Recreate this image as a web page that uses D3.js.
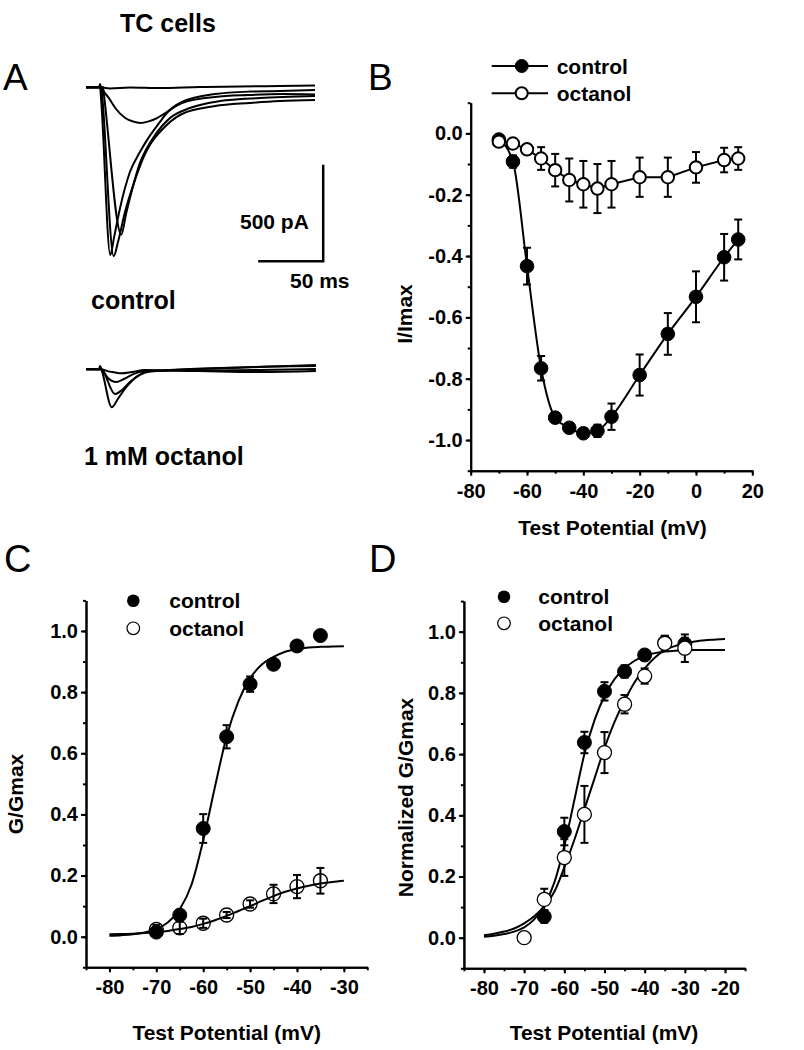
<!DOCTYPE html>
<html><head><meta charset="utf-8">
<script src="https://cdn.jsdelivr.net/npm/d3@7"></script>
<style>body{margin:0;background:#fff} svg{display:block} text{font-family:"Liberation Sans",Arial,Helvetica,sans-serif}</style>
</head><body><svg id="c" width="804" height="1050"></svg>
<script>
// ---------- Panel A: current traces [time ms, current pA] ----------
const ctrlTrace1 = [[0,-1],[10,-1],[10.8,17],[11.5,2],[18.5,-6],[33.8,-1],[56.9,-4],[87.7,2],[118.5,4],[149.2,7],[176.2,9]];
const ctrlTrace2 = [[0,0],[10.8,0],[13.8,-24],[17.5,-55],[22.5,-107],[30.2,-159],[36.2,-177],[41.8,-184],[48.2,-176],[54.6,-159],[61,-133],[73.8,-81],[99.2,-50],[124.6,-40],[150.8,-35],[176.2,-37]];
const ctrlTrace3 = [[0,0],[10.8,0],[11.6,-60],[18.7,-867],[21.5,-779],[26.2,-624],[33.8,-438],[41.5,-335],[46.9,-273],[56.9,-179],[61,-142],[73.8,-76],[99.2,-35],[126.2,-22],[149.2,-19],[176.2,-14]];
const ctrlTrace4 = [[0,0],[11.9,0],[12.7,-60],[21.3,-874],[24.6,-800],[30,-645],[37.7,-479],[45.4,-345],[49.2,-298],[56.9,-231],[73.8,-138],[99.2,-97],[126.2,-81],[149.2,-71],[176.2,-66]];
const ctrlTrace5 = [[0,0],[13.1,0],[14,-50],[27.2,-762],[30.8,-655],[35.4,-531],[41.5,-391],[46.9,-314],[53.1,-247],[64.6,-159],[80,-107],[103.1,-71],[133.8,-55],[176.2,-45]];
const octTrace1 = [[0,0],[10,0],[10.8,17],[12.3,-9],[19.8,-196],[24.8,-150],[31.3,-90],[39,-38],[46.7,-12],[64.6,-4],[103.1,7],[141.5,14],[176.9,17]];
const octTrace2 = [[0,0],[11.5,0],[22.3,-128],[27.7,-107],[33.8,-66],[41.5,-29],[49.2,-11],[87.7,2],[133.8,12],[176.9,22]];
const octTrace3 = [[0,0],[11.5,0],[16.9,-45],[23.1,-66],[29.2,-50],[36.9,-24],[45.4,-9],[87.7,-6],[133.8,-4],[176.9,2]];
const octTrace4 = [[0,0],[10.8,0],[18.5,-12],[27.5,-21],[35.4,-14],[45.4,-4],[87.7,-9],[133.8,-14],[176.9,-9]];
const scaleBarT = [132.5, 182.5];   // 50 ms
const scaleBarI = [-900, -400];     // 500 pA

// ---------- Panel B: I-V ----------
const bV = [-70,-65,-60,-55,-50,-45,-40,-35,-30,-20,-10,0,10,15];
const bControl = [-0.02,-0.092,-0.433,-0.766,-0.927,-0.96,-0.978,-0.97,-0.924,-0.788,-0.654,-0.533,-0.404,-0.346];
const bControlErr = [0.01,0.02,0.06,0.04,0.015,0.015,0.01,0.02,0.043,0.067,0.068,0.083,0.076,0.065];
const bOctanol = [-0.027,-0.033,-0.052,-0.082,-0.12,-0.152,-0.166,-0.18,-0.166,-0.143,-0.143,-0.111,-0.087,-0.082];
const bOctanolErr = [0.01,0.01,0.015,0.037,0.053,0.07,0.076,0.08,0.076,0.064,0.064,0.05,0.04,0.037];
const bXTicks = [-80,-60,-40,-20,0,20];
const bYTicks = [0,-0.2,-0.4,-0.6,-0.8,-1.0];

// ---------- Panel C: G/Gmax ----------
const cV = [-70,-65,-60,-55,-50,-45,-40,-35];
const cControl = [0.015,0.071,0.354,0.654,0.826,0.891,0.951,0.985];
const cControlErr = [0.01,0.01,0.047,0.038,0.025,0.01,0.01,0.01];
const cOctanol = [0.024,0.029,0.044,0.071,0.107,0.14,0.164,0.183];
const cOctanolErr = [0.015,0.02,0.015,0.01,0.012,0.03,0.038,0.042];
const cFitV = [-80,-77.5,-75,-72.5,-70,-67.5,-65,-62.5,-60,-57.5,-55,-52.5,-50,-47.5,-45,-42.5,-40,-37.5,-35,-32.5,-30];
const cFitControl = [0.003,0.005,0.008,0.014,0.025,0.047,0.09,0.17,0.315,0.49,0.655,0.77,0.845,0.89,0.915,0.932,0.941,0.946,0.948,0.949,0.95];
const cFitOctanol = [0.008,0.009,0.010,0.012,0.015,0.019,0.025,0.032,0.042,0.054,0.068,0.084,0.1,0.117,0.133,0.147,0.158,0.167,0.174,0.179,0.183];
const cXTicks = [-80,-70,-60,-50,-40,-30];
const gYTicks = [0,0.2,0.4,0.6,0.8,1.0];

// ---------- Panel D: normalized G/Gmax ----------
const dVControl = [-65,-60,-55,-50,-45,-40,-35,-30];
const dControl = [0.069,0.347,0.638,0.805,0.87,0.924,0.965,0.96];
const dControlErr = [0.02,0.045,0.035,0.03,0.02,0.01,0.02,0.02];
const dVOctanol = [-70,-65,-60,-55,-50,-45,-40,-35,-30];
const dOctanol = [0.0,0.125,0.262,0.403,0.605,0.763,0.855,0.962,0.946];
const dOctanolErr = [0.0,0.035,0.06,0.093,0.067,0.03,0.025,0.025,0.045];
const dFitV = [-80,-77.5,-75,-72.5,-70,-67.5,-65,-62.5,-60,-57.5,-55,-52.5,-50,-47.5,-45,-42.5,-40,-37.5,-35,-32.5,-30,-27.5,-25,-22.5,-20];
const dFitControl = [0.003,0.006,0.012,0.02,0.034,0.06,0.105,0.18,0.3,0.45,0.6,0.71,0.79,0.845,0.88,0.905,0.92,0.93,0.935,0.938,0.939,0.94,0.94,0.94,0.94];
const dFitOctanol = [0.008,0.013,0.02,0.03,0.047,0.07,0.103,0.15,0.23,0.32,0.42,0.52,0.62,0.705,0.775,0.835,0.88,0.915,0.94,0.953,0.962,0.968,0.972,0.974,0.976];
const dXTicks = [-80,-70,-60,-50,-40,-30,-20];

// ================= drawing =================
const FONT = '"Liberation Sans", Arial, Helvetica, sans-serif';
const svg = d3.select("#c");
svg.append("rect").attr("width",804).attr("height",1050).attr("fill","#fff");

function txt(x, y, s, size, weight, anchor, rot) {
  const t = svg.append("text").attr("font-size", size).attr("font-weight", weight || "bold")
    .attr("font-family", FONT).attr("fill", "#000").attr("text-anchor", anchor || "start").text(s);
  if (rot) t.attr("transform", `translate(${x},${y}) rotate(${rot})`);
  else t.attr("x", x).attr("y", y);
  return t;
}

function minorVals(lo, hi, step) {
  const out = [];
  for (let i = 0; lo + i * step <= hi + 1e-9; i++) out.push(+(lo + i * step).toFixed(4));
  return out;
}

function axes(x, y, xMajor, xMinorStep, yMajor, yMinorStep, yFmt) {
  const x0 = x.range()[0], y0 = y.range()[0];
  const [xd0, xd1] = x.domain(), [yd0, yd1] = y.domain();
  const gx = svg.append("g").attr("transform", `translate(0,${y0})`);
  gx.call(d3.axisBottom(x).tickValues(minorVals(xd0, xd1, xMinorStep)).tickSize(3).tickSizeOuter(0).tickFormat(""));
  gx.call(g => g.selectAll(".tick text").remove());
  const gx2 = svg.append("g").attr("transform", `translate(0,${y0})`);
  gx2.call(d3.axisBottom(x).tickValues(xMajor).tickSize(5).tickSizeOuter(0).tickPadding(8).tickFormat(d => String(d)));
  const gy = svg.append("g").attr("transform", `translate(${x0},0)`);
  gy.call(d3.axisLeft(y).tickValues(minorVals(Math.min(yd0,yd1), Math.max(yd0,yd1), yMinorStep)).tickSize(3).tickSizeOuter(0).tickFormat(""));
  gy.call(g => g.selectAll(".tick text").remove());
  const gy2 = svg.append("g").attr("transform", `translate(${x0},0)`);
  gy2.call(d3.axisLeft(y).tickValues(yMajor).tickSize(5).tickSizeOuter(0).tickPadding(3).tickFormat(yFmt));
  [gx, gx2, gy, gy2].forEach(g => {
    g.attr("font-size", 20).attr("font-family", FONT).attr("font-weight", "bold");
    g.selectAll("path.domain").attr("stroke", "#000").attr("stroke-width", 2);
    g.selectAll(".tick line").attr("stroke", "#000").attr("stroke-width", 2);
    g.selectAll(".tick text").attr("fill", "#000");
  });
}

function errBars(x, y, V, M, E, cap) {
  const g = svg.append("g").attr("stroke", "#000").attr("stroke-width", 2).attr("fill", "none");
  V.forEach((v, i) => {
    if (!E[i]) return;
    const px = x(v), lo = y(M[i] - E[i]), hi = y(M[i] + E[i]);
    g.append("line").attr("x1", px).attr("x2", px).attr("y1", lo).attr("y2", hi);
    g.append("line").attr("x1", px - cap).attr("x2", px + cap).attr("y1", lo).attr("y2", lo);
    g.append("line").attr("x1", px - cap).attr("x2", px + cap).attr("y1", hi).attr("y2", hi);
  });
}

function markers(x, y, V, M, filled, r, fill, sw) {
  svg.append("g").selectAll("circle").data(V).join("circle")
    .attr("cx", d => x(d)).attr("cy", (d, i) => y(M[i])).attr("r", r)
    .attr("fill", filled ? "#000" : fill).attr("stroke", "#000").attr("stroke-width", filled ? 1 : sw);
}

function curve(x, y, V, M, c) {
  svg.append("path").datum(V.map((v, i) => [v, M[i]]))
    .attr("d", d3.line().x(d => x(d[0])).y(d => y(d[1])).curve(c || d3.curveMonotoneX))
    .attr("fill", "none").attr("stroke", "#000").attr("stroke-width", 2);
}

// ---------- Panel A ----------
txt(120, 32, "TC cells", 25, "bold");
txt(3, 90, "A", 37, "normal");
const tA = d3.scaleLinear().domain([0, 176.2]).range([86, 315]);
const iCtrl = d3.scaleLinear().domain([0, -500]).range([87.3, 184]);
const iOct = d3.scaleLinear().domain([0, -500]).range([369.3, 466]);
const traceLine = yS => d3.line().x(d => tA(d[0])).y(d => yS(d[1])).curve(d3.curveMonotoneX);
[ctrlTrace1, ctrlTrace2, ctrlTrace3, ctrlTrace4, ctrlTrace5].forEach(tr =>
  svg.append("path").datum(tr).attr("d", traceLine(iCtrl)).attr("fill", "none").attr("stroke", "#000").attr("stroke-width", 2));
[octTrace1, octTrace2, octTrace3, octTrace4].forEach(tr =>
  svg.append("path").datum(tr).attr("d", traceLine(iOct)).attr("fill", "none").attr("stroke", "#000").attr("stroke-width", 2));
// scale bar
svg.append("path")
  .attr("d", `M${tA(scaleBarT[0])},${iCtrl(scaleBarI[0])}H${tA(scaleBarT[1])}V${iCtrl(scaleBarI[1])}`)
  .attr("fill", "none").attr("stroke", "#000").attr("stroke-width", 2.5);
txt(240, 229, "500 pA", 21, "bold");
txt(290, 287.5, "50 ms", 21, "bold");
txt(91, 309, "control", 25, "bold");
txt(84, 465, "1 mM octanol", 25, "bold");

// ---------- Panel B ----------
txt(368, 90, "B", 37, "normal");
const xB = d3.scaleLinear().domain([-80, 20]).range([470.7, 752.3]);
const yB = d3.scaleLinear().domain([-1.1, 0.1]).range([470.7, 102.7]);
axes(xB, yB, bXTicks, 10, bYTicks, 0.1, d => d.toFixed(1));
curve(xB, yB, bV, bOctanol, d3.curveLinear);
curve(xB, yB, bV, bControl, d3.curveMonotoneX);
errBars(xB, yB, bV, bControl, bControlErr, 4);
errBars(xB, yB, bV, bOctanol, bOctanolErr, 4);
markers(xB, yB, bV, bControl, true, 6.8);
markers(xB, yB, bV, bOctanol, false, 6.2, "#fff", 2);
// legend
[[66, true, "control"], [93.3, false, "octanol"]].forEach(([ly, f, s]) => {
  svg.append("line").attr("x1", 491.7).attr("x2", 548).attr("y1", ly).attr("y2", ly).attr("stroke", "#000").attr("stroke-width", 2);
  svg.append("circle").attr("cx", 521.7).attr("cy", ly).attr("r", f ? 6.5 : 6).attr("fill", f ? "#000" : "#fff").attr("stroke", "#000").attr("stroke-width", f ? 1 : 2);
  txt(556.7, ly + 7.5, s, 21, "bold");
});
txt(612.5, 535, "Test Potential (mV)", 21, "bold", "middle");
txt(412, 314, "I/Imax", 21, "bold", "middle", -90);

// ---------- Panel C ----------
txt(4, 572, "C", 38, "normal");
const xC = d3.scaleLinear().domain([-85, -25]).range([86, 367.3]);
const yC = d3.scaleLinear().domain([-0.1, 1.1]).range([967.3, 600.4]);
axes(xC, yC, cXTicks, 5, gYTicks, 0.1, d => d.toFixed(1));
curve(xC, yC, cFitV, cFitControl);
curve(xC, yC, cFitV, cFitOctanol);
errBars(xC, yC, cV, cControl, cControlErr, 4);
errBars(xC, yC, cV, cOctanol, cOctanolErr, 4);
markers(xC, yC, cV, cControl, true, 7);
markers(xC, yC, cV, cOctanol, false, 7, "none", 1.3);
svg.append("circle").attr("cx", 133.3).attr("cy", 600.7).attr("r", 6.3).attr("fill", "#000");
svg.append("circle").attr("cx", 133.3).attr("cy", 628.3).attr("r", 6.3).attr("fill", "none").attr("stroke", "#000").attr("stroke-width", 1.2);
txt(169.3, 608, "control", 21, "bold");
txt(169.3, 636, "octanol", 21, "bold");
txt(226.7, 1040, "Test Potential (mV)", 21, "bold", "middle");
txt(23.3, 794, "G/Gmax", 21, "bold", "middle", -90);

// ---------- Panel D ----------
txt(369, 572, "D", 38, "normal");
const xD = d3.scaleLinear().domain([-85, -15]).range([463.9, 745.1]);
const yD = d3.scaleLinear().domain([-0.1, 1.1]).range([968.3, 601.1]);
axes(xD, yD, dXTicks, 5, gYTicks, 0.1, d => d.toFixed(1));
curve(xD, yD, dFitV, dFitControl);
curve(xD, yD, dFitV, dFitOctanol);
errBars(xD, yD, dVControl, dControl, dControlErr, 4);
errBars(xD, yD, dVOctanol, dOctanol, dOctanolErr, 4);
markers(xD, yD, dVControl, dControl, true, 7);
markers(xD, yD, dVOctanol, dOctanol, false, 7, "#fff", 1.3);
svg.append("circle").attr("cx", 504).attr("cy", 596.7).attr("r", 6.3).attr("fill", "#000");
svg.append("circle").attr("cx", 504).attr("cy", 623.3).attr("r", 6.3).attr("fill", "none").attr("stroke", "#000").attr("stroke-width", 1.2);
txt(538.3, 604, "control", 21, "bold");
txt(538.3, 631, "octanol", 21, "bold");
txt(604, 1040, "Test Potential (mV)", 21, "bold", "middle");
txt(413, 797.5, "Normalized G/Gmax", 21, "bold", "middle", -90);
</script></body></html>
